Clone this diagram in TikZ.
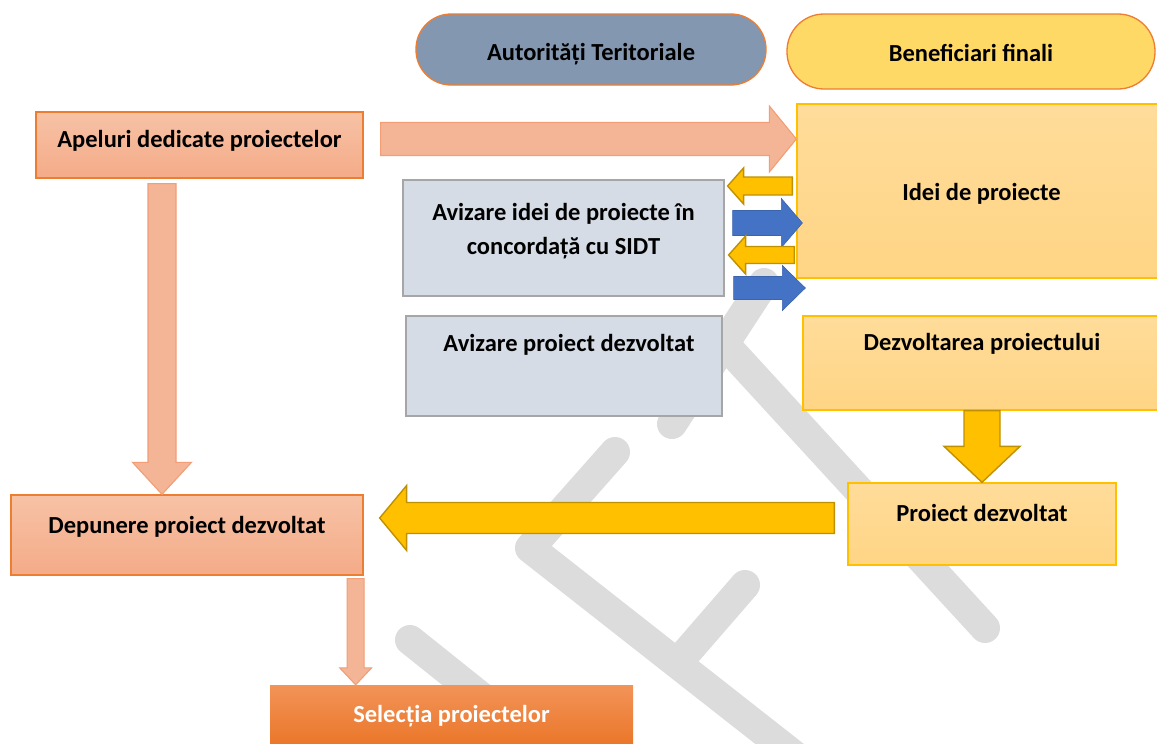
\documentclass[tikz,border=0pt]{standalone}
\usepackage{fontspec}
\setmainfont{Carlito}
\usetikzlibrary{calc}
\definecolor{orangeB}{HTML}{ED7D31}
\definecolor{salT}{HTML}{F7C2A6}
\definecolor{salB}{HTML}{F4AB88}
\definecolor{salF}{HTML}{F4B496}
\definecolor{salE}{HTML}{F29E76}
\definecolor{selT}{HTML}{F29458}
\definecolor{selB}{HTML}{EA7426}
\definecolor{authF}{HTML}{8497B0}
\definecolor{benF}{HTML}{FFD966}
\definecolor{yboxT}{HTML}{FFDC9A}
\definecolor{yboxB}{HTML}{FFD585}
\definecolor{yboxE}{HTML}{FFC000}
\definecolor{grayF}{HTML}{D6DCE5}
\definecolor{grayE}{HTML}{A6A6A6}
\definecolor{yelF}{HTML}{FFC000}
\definecolor{yelE}{HTML}{BF9000}
\definecolor{bluF}{HTML}{4472C4}
\definecolor{bluE}{HTML}{3B64AE}
\definecolor{wmgray}{HTML}{DCDCDC}
\newcommand{\blockarrow}[6]{%
  \coordinate (bahead) at ($(#3)!#6!(#2)$);
  \draw[#1] ($(#2)!#4!90:(#3)$) -- ($(bahead)!#4!90:(#3)$) -- ($(bahead)!#5!90:(#3)$) -- (#3)
    -- ($(bahead)!#5!-90:(#3)$) -- ($(bahead)!#4!-90:(#3)$) -- ($(#2)!#4!-90:(#3)$) -- cycle;}
\tikzset{
  txt/.style={font=\fontsize{24.5}{34}\selectfont\bfseries, inner sep=0pt, align=center},
  salbox/.style={txt, draw=orangeB, line width=1.3pt, top color=salT, bottom color=salB},
  selbox/.style={txt, text=white, draw=none, top color=selT, bottom color=selB},
  ybox/.style={txt, draw=yboxE, line width=1.3pt, top color=yboxT, bottom color=yboxB},
  gbox/.style={txt, draw=grayE, line width=1.1pt, fill=grayF},
  pill/.style={txt, draw=orangeB, line width=1.3pt},
  salarrow/.style={draw=salE, fill=salF, line width=1.1pt, line join=miter},
  yelarrow/.style={draw=yelE, fill=yelF, line width=1.4pt, line join=miter},
  bluarrow/.style={draw=bluE, fill=bluF, line width=0.6pt, line join=miter},
  wm/.style={draw=wmgray, line width=30pt, line cap=round, line join=round}
}
\begin{document}
\begin{tikzpicture}[x=1pt,y=-1pt]
\useasboundingbox (0,0) rectangle (1157,744);
% watermark
\draw[wm] (672,424) -- (764,283);
\draw[wm] (730,350) -- (985,628);
\draw[wm] (615,452) -- (530,548) -- (800,760);
\draw[wm] (745,585) -- (680,660);
\draw[wm] (410,640) -- (560,760);
% header pills
\node[pill, fill=authF, rounded corners=35pt, minimum width=350pt, minimum height=71pt, text height=46pt, text depth=25pt] (auth) at (591,49.5) {Autorități Teritoriale};
\node[pill, fill=benF, rounded corners=37pt, minimum width=368pt, minimum height=75pt, text height=47pt, text depth=28pt] (benef) at (971,51.5) {Beneficiari finali};
% boxes
\node[salbox, minimum width=327pt, minimum height=66pt, text height=35pt, text depth=31pt] (apel) at (199.5,145) {Apeluri dedicate proiectelor};
\node[ybox, minimum width=369pt, minimum height=174pt, text height=96pt, text depth=78pt] (idei) at (981.5,191) {Idei de proiecte};
\node[gbox, minimum width=321pt, minimum height=116pt, text height=74pt, text depth=42pt] (avid) at (563.5,238) {\begin{tabular}[b]{@{}c@{}}Avizare idei de proiecte în\\ concordață cu SIDT\end{tabular}};
\node[gbox, minimum width=316pt, minimum height=100pt, text height=35pt, text depth=65pt] (avpd) at (564,366) {\hspace*{10pt}Avizare proiect dezvoltat};
\node[ybox, minimum width=358pt, minimum height=94pt, text height=34pt, text depth=60pt] (dezv) at (982,363) {Dezvoltarea proiectului};
\node[ybox, minimum width=268pt, minimum height=82pt, text height=38pt, text depth=44pt] (proj) at (982,524) {Proiect dezvoltat};
\node[salbox, minimum width=352pt, minimum height=80pt, text height=38pt, text depth=42pt] (depun) at (187,535) {Depunere proiect dezvoltat};
\node[selbox, minimum width=363pt, minimum height=64pt, text height=37pt, text depth=27pt] (sel) at (451.5,717) {Selecția proiectelor};
% arrow end points
\coordinate (a1s) at ($(apel.east)+(17,-6)$);
\coordinate (a1e) at (idei.west |- a1s);
\coordinate (y1s) at ($(idei.west)+(-4,-5)$);
\coordinate (y1e) at ($(avid.east)+(3,-52)$);
\coordinate (b1s) at ($(avid.east)+(8,-15)$);
\coordinate (b1e) at ($(idei.west)+(6,32)$);
\coordinate (y2s) at ($(idei.west)+(-2,64)$);
\coordinate (y2e) at ($(avid.east)+(4,17)$);
\coordinate (b2s) at ($(avid.east)+(9,50)$);
\coordinate (b2e) at ($(idei.west)+(9,97)$);
\coordinate (y4s) at ($(proj.west)+(-13,-6)$);
\coordinate (y4e) at ($(depun.east)+(16,-17)$);
\coordinate (s2s) at ($(apel.south)+(-37.5,5)$);
\coordinate (s2e) at (s2s |- depun.north);
\coordinate (s3s) at ($(depun.south east)+(-8,3)$);
\coordinate (s3e) at (s3s |- sel.north);
% arrows
\blockarrow{salarrow}{a1s}{a1e}{16.5pt}{33pt}{27pt}
\blockarrow{salarrow}{s2s}{s2e}{14pt}{29.5pt}{32pt}
\blockarrow{salarrow}{s3s}{s3e}{8.5pt}{16pt}{17pt}
\blockarrow{yelarrow}{y1s}{y1e}{9pt}{18pt}{16pt}
\blockarrow{bluarrow}{b1s}{b1e}{12.5pt}{24.5pt}{21pt}
\blockarrow{yelarrow}{y2s}{y2e}{8.5pt}{19pt}{17pt}
\blockarrow{bluarrow}{b2s}{b2e}{11.5pt}{22.5pt}{23pt}
\blockarrow{yelarrow}{dezv.south}{proj.north}{18pt}{38pt}{36pt}
\blockarrow{yelarrow}{y4s}{y4e}{15.5pt}{32.5pt}{27pt}
\end{tikzpicture}
\end{document}
